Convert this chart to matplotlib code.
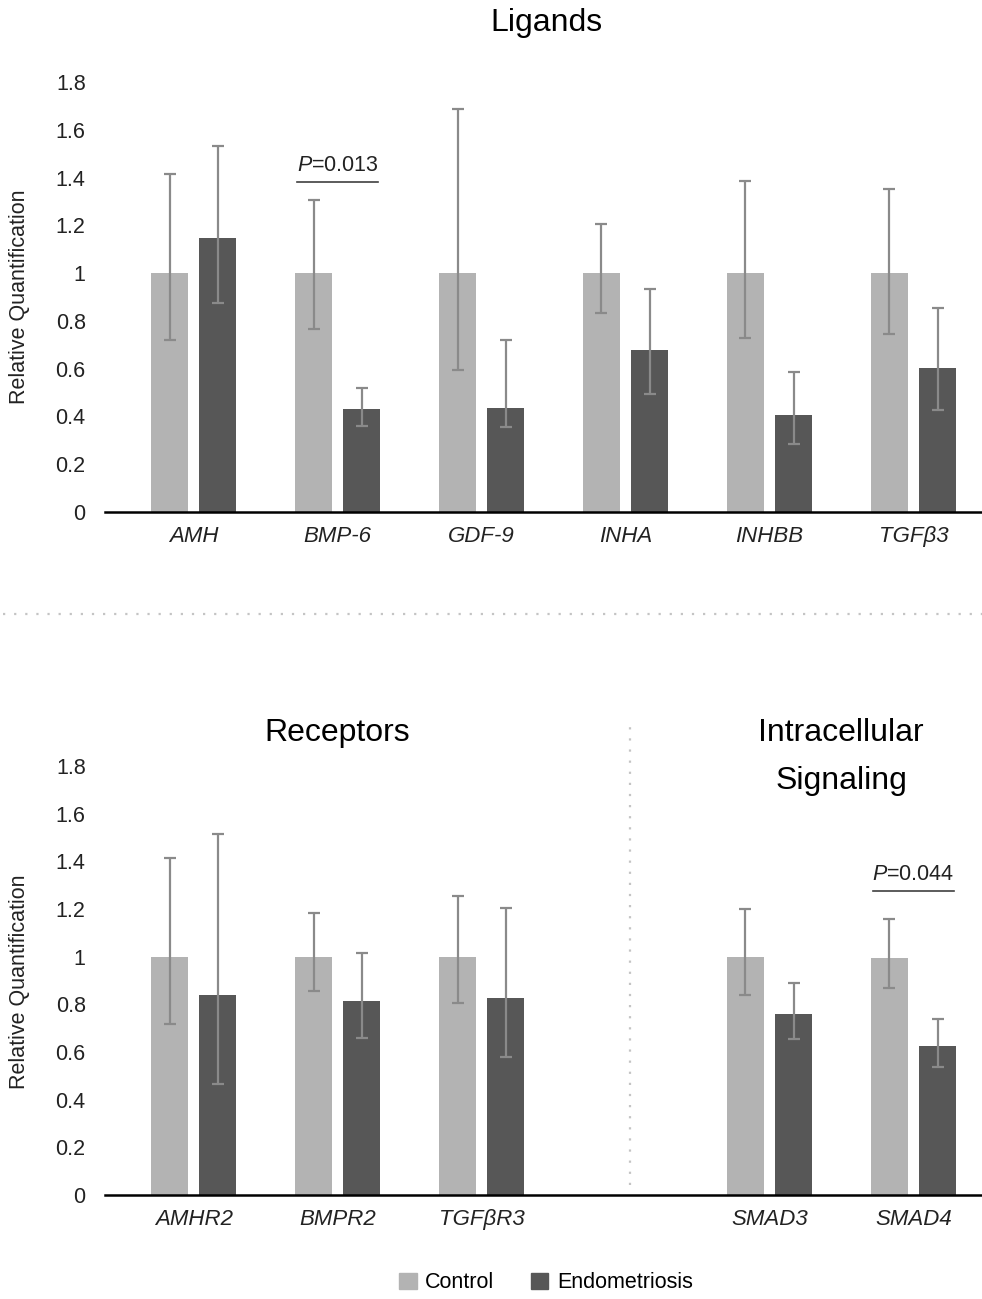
import numpy as np
import matplotlib
matplotlib.use('Agg')
import matplotlib.pyplot as plt
from matplotlib.lines import Line2D
from matplotlib.patches import Patch

plt.rcParams['font.family'] = ['Liberation Sans', 'DejaVu Sans']
plt.rcParams['mathtext.fontset'] = 'custom'
plt.rcParams['mathtext.rm'] = 'Liberation Sans'
plt.rcParams['mathtext.it'] = 'Liberation Sans:italic'

# ligands
lig_genes = ['AMH', 'BMP-6', 'GDF-9', 'INHA', 'INHBB', 'TGFβ3']
lig_ctrl = [1.0, 1.0, 1.0, 1.0, 1.0, 1.0]
lig_ctrl_lo = [0.72, 0.765, 0.594, 0.834, 0.727, 0.745]
lig_ctrl_hi = [1.414, 1.305, 1.687, 1.204, 1.387, 1.353]
lig_endo = [1.148, 0.432, 0.435, 0.677, 0.406, 0.603]
lig_endo_lo = [0.873, 0.36, 0.357, 0.493, 0.283, 0.428]
lig_endo_hi = [1.533, 0.52, 0.72, 0.933, 0.587, 0.853]

# receptors + intracellular signaling (slot 3 left empty)
rec_genes = ['AMHR2', 'BMPR2', 'TGFβR3', 'SMAD3', 'SMAD4']
rec_pos = [0, 1, 2, 4, 5]
rec_ctrl = [1.0, 1.0, 1.0, 1.0, 0.995]
rec_ctrl_lo = [0.719, 0.854, 0.806, 0.841, 0.869]
rec_ctrl_hi = [1.416, 1.183, 1.253, 1.2, 1.16]
rec_endo = [0.839, 0.814, 0.826, 0.76, 0.624]
rec_endo_lo = [0.466, 0.659, 0.577, 0.656, 0.538]
rec_endo_hi = [1.515, 1.015, 1.205, 0.889, 0.737]

yticks = [0, 0.2, 0.4, 0.6, 0.8, 1, 1.2, 1.4, 1.6, 1.8]
ytick_labels = ['0', '0.2', '0.4', '0.6', '0.8', '1', '1.2', '1.4', '1.6', '1.8']

C_CTRL = '#b3b3b3'
C_ENDO = '#575757'
C_ERR = '#8a8a8a'
W = 0.257
OFF = 0.167

fig = plt.figure(figsize=(9.82, 12.99), dpi=100)
ax1 = fig.add_axes([0.107, 0.6059, 0.893, 0.331])
ax2 = fig.add_axes([0.107, 0.0801, 0.893, 0.3302])


def draw(ax, pos, ctrl, clo, chi, endo, elo, ehi, labels):
    pos = np.array(pos, dtype=float)
    ctrl, endo = np.array(ctrl), np.array(endo)
    cerr = [ctrl - np.array(clo), np.array(chi) - ctrl]
    eerr = [endo - np.array(elo), np.array(ehi) - endo]
    ax.bar(pos - OFF, ctrl, W, color=C_CTRL, linewidth=0)
    ax.bar(pos + OFF, endo, W, color=C_ENDO, linewidth=0)
    kw = dict(fmt='none', ecolor=C_ERR, elinewidth=1.6, capsize=4.5, capthick=1.6)
    ax.errorbar(pos - OFF, ctrl, yerr=cerr, **kw)
    ax.errorbar(pos + OFF, endo, yerr=eerr, **kw)
    ax.set_xlim(-0.615, 5.476)
    ax.set_ylim(0, 1.8)
    ax.set_yticks(yticks)
    ax.set_yticklabels(ytick_labels)
    ax.set_xticks(pos)
    ax.set_xticklabels(labels, style='italic')
    for s in ['top', 'right', 'left']:
        ax.spines[s].set_visible(False)
    ax.spines['bottom'].set_linewidth(1.8)
    ax.spines['bottom'].set_color('black')
    ax.tick_params(axis='y', length=0, pad=14, labelsize=15.5, labelcolor='#222222')
    ax.tick_params(axis='x', length=0, pad=10, labelsize=16, labelcolor='#222222')


draw(ax1, range(6), lig_ctrl, lig_ctrl_lo, lig_ctrl_hi,
     lig_endo, lig_endo_lo, lig_endo_hi, lig_genes)
draw(ax2, rec_pos, rec_ctrl, rec_ctrl_lo, rec_ctrl_hi,
     rec_endo, rec_endo_lo, rec_endo_hi, rec_genes)

# significance marks
ax1.plot([0.72, 1.28], [1.38, 1.38], color='#404040', lw=1.2)
ax1.text(1.0, 1.405, '$P$=0.013', ha='center', va='bottom', fontsize=15.5, color='#222222')
ax2.plot([4.72, 5.28], [1.275, 1.275], color='#404040', lw=1.2)
ax2.text(5.0, 1.30, '$P$=0.044', ha='center', va='bottom', fontsize=15.5, color='#222222')

# separators
ax2.plot([3.03, 3.03], [0.04, 1.97], color='#c4c4c4', lw=1.6,
         linestyle=(0, (1, 4)), clip_on=False)
fig.add_artist(Line2D([0.003, 1.0], [0.5273, 0.5273], transform=fig.transFigure,
                      color='#c4c4c4', lw=1.6, linestyle=(0, (1, 4))))

# titles
fig.text(546 / 982, 1 - 23 / 1299, 'Ligands', ha='center', va='center', fontsize=23)
fig.text(337 / 982, 1 - 733 / 1299, 'Receptors', ha='center', va='center', fontsize=23)
fig.text(841 / 982, 1 - 757 / 1299, 'Intracellular\nSignaling', ha='center', va='center',
         fontsize=23, linespacing=1.75)

# y labels
for yc in [297, 982]:
    fig.text(20 / 982, 1 - yc / 1299, 'Relative Quantification', rotation=90,
             ha='center', va='center', fontsize=15.5, color='#222222')

handles = [Patch(color=C_CTRL, label='Control'), Patch(color=C_ENDO, label='Endometriosis')]
fig.legend(handles=handles, loc='center', bbox_to_anchor=(546 / 982, 1 - 1283 / 1299),
           ncol=2, frameon=False, fontsize=15.5, handlelength=0.8, handleheight=0.8,
           handletextpad=0.4, columnspacing=1.7)

fig.savefig('out.png', dpi=100)
